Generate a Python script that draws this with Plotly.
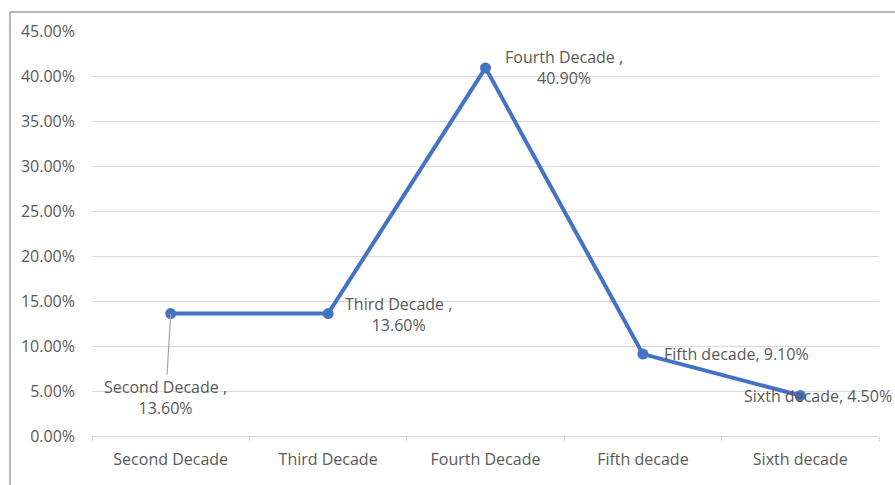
import plotly.graph_objects as go

# Share of cases by age decade
decades = ["Second Decade", "Third Decade", "Fourth Decade", "Fifth decade", "Sixth decade"]
shares = [13.6, 13.6, 40.9, 9.1, 4.5]
label_names = ["Second Decade ,", "Third Decade ,", "Fourth Decade ,", "Fifth decade,", "Sixth decade,"]

tick_vals = [0, 5, 10, 15, 20, 25, 30, 35, 40, 45]
tick_text = [f"{v:.2f}%" for v in tick_vals]

BLUE = "#4472C4"
GREY_TEXT = "#595959"
FONT = "Open Sans"
FS = 16

fig = go.Figure()
fig.add_trace(go.Scatter(
    x=decades, y=shares, mode="lines+markers",
    line=dict(color=BLUE, width=4),
    marker=dict(color=BLUE, size=11),
    hoverinfo="skip", showlegend=False,
))

# data labels: offsets in pixels from each point
label_specs = [
    dict(two_line=True, showarrow=True, ax=-5, ay=84),
    dict(two_line=True, xshift=70, yshift=-1),
    dict(two_line=True, xshift=78, yshift=0),
    dict(two_line=False, xshift=19, yshift=0),
    dict(two_line=False, xshift=-58, yshift=0),
]
for cat, val, name, spec in zip(decades, shares, label_names, label_specs):
    sep = "<br>" if spec["two_line"] else " "
    text = f"{name}{sep}{val:.2f}%"
    ann = dict(x=cat, y=val, xref="x", yref="y", text=text,
               font=dict(family=FONT, size=FS, color=GREY_TEXT),
               align="center")
    if spec.get("showarrow"):
        ann.update(showarrow=True, ax=spec["ax"], ay=spec["ay"], arrowhead=0,
                   arrowwidth=1.2, arrowcolor="#A6A6A6", standoff=0)
    else:
        ann.update(showarrow=False, xshift=spec["xshift"], yshift=spec["yshift"],
                   xanchor="left" if not spec["two_line"] else "center")
    fig.add_annotation(**ann)

# outer chart border
fig.add_shape(type="rect", xref="paper", yref="paper",
              x0=-0.1042, x1=1.05, y0=-0.2, y1=1.0469,
              line=dict(color="#6E6E6E", width=1), layer="below")

fig.update_layout(
    width=895, height=485,
    margin=dict(l=92, r=16, t=31, b=49),
    paper_bgcolor="white", plot_bgcolor="white",
    font=dict(family=FONT, size=FS, color=GREY_TEXT),
    xaxis=dict(
        type="category", showgrid=False, showline=True, linecolor="#D9D9D9",
        linewidth=1, ticks="outside", tickson="boundaries", ticklen=4,
        tickcolor="#D9D9D9", tickfont=dict(size=FS, color=GREY_TEXT),
        ticklabelstandoff=9, range=[-0.5, 4.5], fixedrange=True,
    ),
    yaxis=dict(
        range=[0, 45], tickvals=tick_vals, ticktext=tick_text,
        showgrid=True, gridcolor="#D9D9D9", gridwidth=1, zeroline=False,
        showline=False, ticks="", tickfont=dict(size=FS, color=GREY_TEXT),
        ticklabelstandoff=16, fixedrange=True,
    ),
)

fig.write_html("out.html")
